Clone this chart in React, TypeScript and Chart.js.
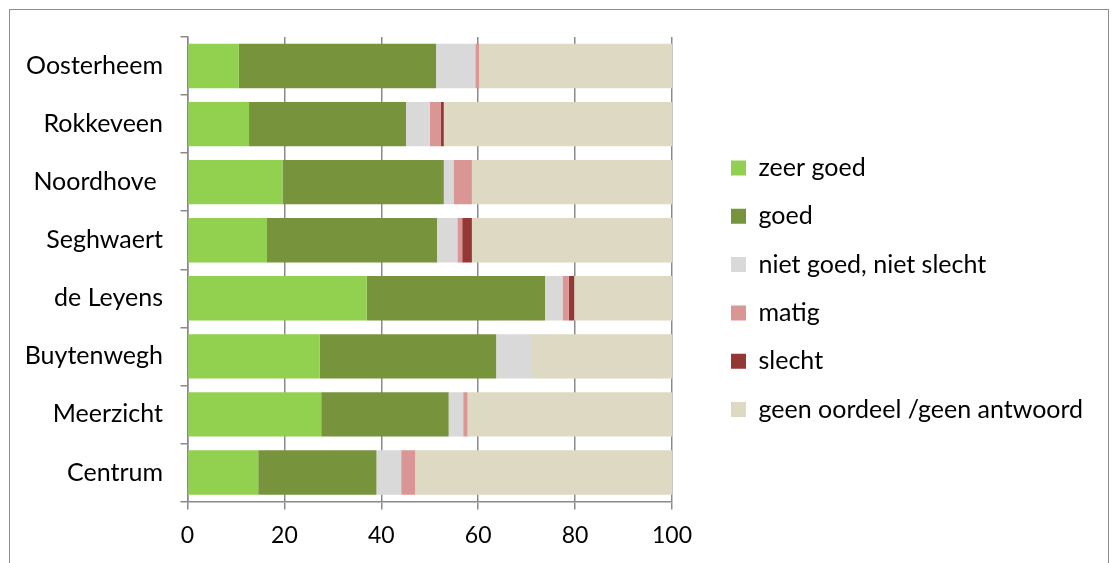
import React, { useEffect, useRef } from "react";
import { Chart, registerables } from "chart.js";

Chart.register(...registerables);

const categories = ["Oosterheem", "Rokkeveen", "Noordhove ", "Seghwaert", "de Leyens", "Buytenwegh", "Meerzicht", "Centrum"];
const seriesNames = ["zeer goed", "goed", "niet goed, niet slecht", "matig", "slecht", "geen oordeel /geen antwoord"];
const seriesColors = ["#92D050", "#77933C", "#D9D9D9", "#D99694", "#953735", "#DDD9C3"];
const zeerGoed = [10.6, 12.7, 19.6, 16.4, 37.0, 27.3, 27.6, 14.6];
const goed = [40.7, 32.4, 33.3, 35.1, 36.8, 36.4, 26.3, 24.4];
const nietGoedNietSlecht = [8.1, 4.9, 2.0, 4.2, 3.6, 7.4, 3.0, 5.1];
const matig = [0.8, 2.3, 3.8, 1.0, 1.3, 0, 0.9, 2.9];
const slecht = [0, 0.6, 0, 2.0, 1.1, 0, 0, 0];
const geenOordeel = [39.8, 47.1, 41.3, 41.3, 20.2, 28.9, 42.2, 53.0];
const xTickValues = [0, 20, 40, 60, 80, 100];

const W = 1098;
const H = 560;
const GRID = "#8a8a8a";
const FONT = "Lato";
const LABEL_SIZE = 25;
const TICK_SIZE = 23;
const X_TICK_PAD = 12.5;
const LEGEND_PAD = 23.3;
const LEGEND_BOX = 15;
const LEGEND_LEFT = 697.7;
const PLOT_TOP = 27;
const PLOT_BOTTOM = 491.5;
const PLOT_LEFT = 177.5;
const PLOT_RIGHT = 662;

export default function App() {
  const ref = useRef<HTMLCanvasElement>(null);
  useEffect(() => {
    if (!ref.current) return;
    const mctx = document.createElement("canvas").getContext("2d")!;
    mctx.font = `${LABEL_SIZE}px ${FONT}`;
    const maxText = Math.max(...seriesNames.map((s) => mctx.measureText(s).width));
    const legendWidth = LEGEND_PAD + LEGEND_BOX + LABEL_SIZE / 2 + maxText + 10;
    const padRight = W - LEGEND_LEFT - legendWidth;
    const xAxisHeight = 8 + TICK_SIZE * 1.2 + X_TICK_PAD + 12.5;
    const padBottom = H - PLOT_BOTTOM - xAxisHeight;

    const series = [zeerGoed, goed, nietGoedNietSlecht, matig, slecht, geenOordeel];
    const chart = new Chart(ref.current, {
      type: "bar",
      data: {
        labels: categories,
        datasets: series.map((d, i) => ({
          label: seriesNames[i],
          data: d,
          backgroundColor: seriesColors[i],
          borderColor: seriesColors[i],
          borderWidth: 0,
          barPercentage: 0.765,
          categoryPercentage: 1,
        })),
      },
      options: {
        indexAxis: "y",
        responsive: false,
        animation: false,
        font: { family: FONT },
        layout: { padding: { top: PLOT_TOP, left: 0, right: padRight, bottom: padBottom } },
        scales: {
          x: {
            stacked: true,
            min: 0,
            max: 100,
            afterBuildTicks: (s: any) => {
              s.ticks = xTickValues.map((v) => ({ value: v }));
            },
            grid: { color: GRID, lineWidth: 1.5, tickLength: 8, drawTicks: true },
            border: { color: GRID, width: 1.5 },
            ticks: { color: "#000", font: { family: FONT, size: TICK_SIZE, lineHeight: 1.2 }, padding: X_TICK_PAD, maxRotation: 0 },
          },
          y: {
            stacked: true,
            afterFit: (s: any) => {
              s.width = PLOT_LEFT;
              s.paddingTop = 0;
              s.paddingBottom = 0;
            },
            grid: { color: GRID, lineWidth: 1.5, drawOnChartArea: false, offset: true, tickLength: 7 },
            border: { color: GRID, width: 1.5 },
            ticks: { color: "#000", font: { family: FONT, size: LABEL_SIZE }, padding: 17.5 },
          },
          spacer: {
            type: "linear",
            position: "right",
            display: true,
            grid: { display: false, drawTicks: false },
            border: { display: false },
            ticks: { display: false },
            afterFit: (s: any) => {
              s.width = LEGEND_LEFT - PLOT_RIGHT;
              s.paddingTop = 0;
              s.paddingBottom = 0;
            },
          },
        },
        plugins: {
          tooltip: { enabled: false },
          legend: {
            position: "right",
            align: "start",
            maxWidth: 2000,
            title: {
              display: true,
              text: " ",
              font: { family: FONT, size: LABEL_SIZE, lineHeight: 1.2 },
              padding: { top: 0, bottom: 65.2 },
            },
            labels: {
              color: "#000",
              font: { family: FONT, size: LABEL_SIZE },
              boxWidth: LEGEND_BOX,
              boxHeight: LEGEND_BOX,
              padding: LEGEND_PAD,
            },
          },
        },
      } as any,
    });
    return () => chart.destroy();
  }, []);
  return (
    <div
      style={{
        position: "absolute",
        left: 9,
        top: 9,
        width: 1100,
        height: 580,
        border: "1px solid #8c8c8c",
        boxSizing: "border-box",
        background: "#fff",
      }}
    >
      <canvas ref={ref} width={W} height={H} style={{ display: "block", width: W, height: H }} />
    </div>
  );
}
